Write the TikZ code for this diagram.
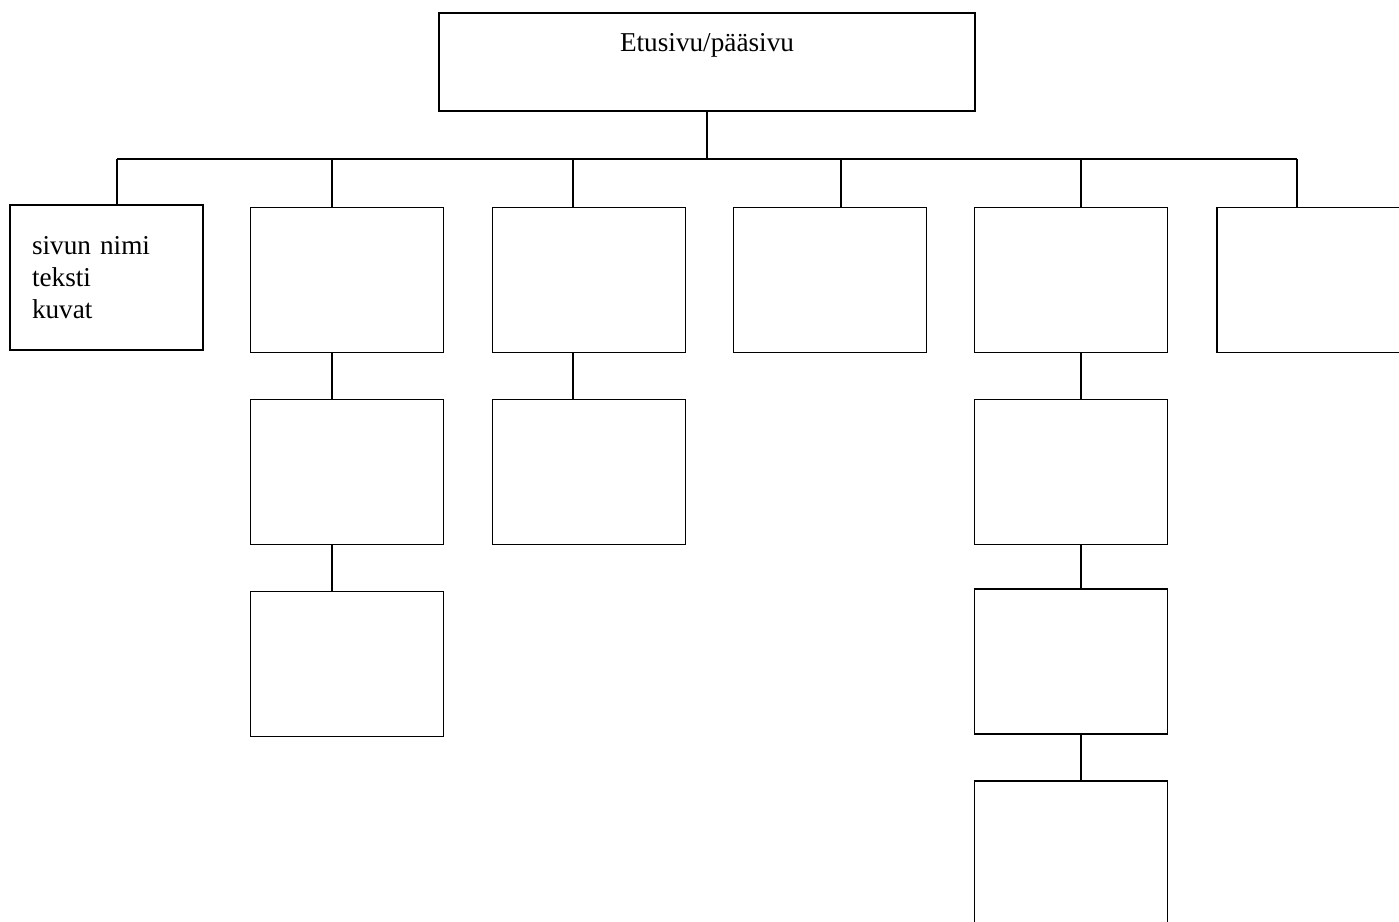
\documentclass[tikz,border=0pt]{standalone}
\usepackage{fontspec}
\setmainfont{Liberation Serif}

\begin{document}
\begin{tikzpicture}[x=0.02cm,y=-0.02cm,
  font=\fontsize{15.5}{18.2}\selectfont,
  page/.style={draw,line width=1.1pt,minimum width=3.86cm,minimum height=2.9cm,inner sep=0pt},
  link/.style={line width=1.1pt}]
  \useasboundingbox (0,0) rectangle (1399,922);
  \clip (0,0) rectangle (1399,922);

  \node[page,minimum width=10.72cm,minimum height=1.96cm] (main) at (707,62) {};
  \node (title) at (707,45) {Etusivu/pääsivu};

  \node[page,align=left,text width=2.98cm,inner xsep=0.44cm] (b1) at (106.5,277.5) {sivun nimi\\teksti\\kuvat};
  \node[page] (b2) at (347,280) {};
  \node[page] (b3) at (589,280) {};
  \node[page] (b4) at (830,280) {};
  \node[page] (b5) at (1071,280) {};
  \node[page] (b6) at (1313,280) {};

  \node[page] (c2) at (347,472) {};
  \node[page] (c3) at (589,472) {};
  \node[page] (c5) at (1071,472) {};

  \node[page] (d2) at (347,664) {};
  \node[page] (d5) at (1071,661.5) {};

  \node[page] (e5) at (1071,853.5) {};

  \coordinate (bus) at (707,159);
  \coordinate (j1) at (117,159);
  \coordinate (j2) at (332,159);
  \coordinate (j3) at (573,159);
  \coordinate (j4) at (841,159);
  \coordinate (j5) at (1081,159);
  \coordinate (j6) at (1297,159);

  \draw[link] (main) -- (bus);
  \draw[link] (j1) -- (j6);
  \foreach \i in {1,...,6}
    \draw[link] (j\i) -- (j\i |- b\i.north);

  \draw[link] (b2.south -| j2) -- (c2.north -| j2);
  \draw[link] (c2.south -| j2) -- (d2.north -| j2);
  \draw[link] (b3.south -| j3) -- (c3.north -| j3);
  \draw[link] (b5.south -| j5) -- (c5.north -| j5);
  \draw[link] (c5.south -| j5) -- (d5.north -| j5);
  \draw[link] (d5.south -| j5) -- (e5.north -| j5);
\end{tikzpicture}
\end{document}
